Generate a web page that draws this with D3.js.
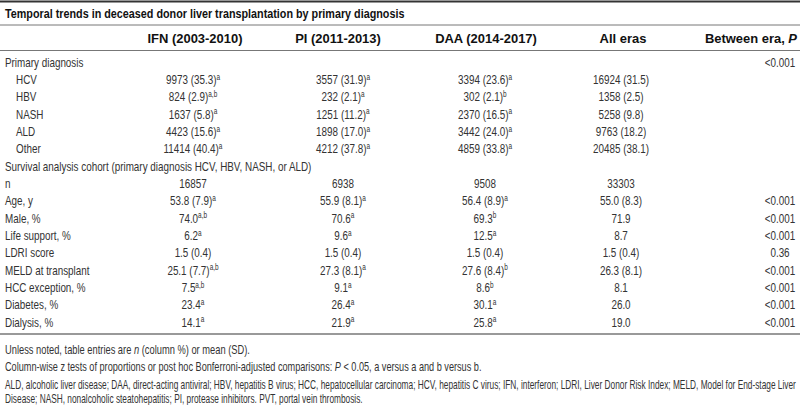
<!DOCTYPE html>
<html><head><meta charset="utf-8">
<script src="https://cdn.jsdelivr.net/npm/d3@7"></script>
<style>
html,body{margin:0;padding:0;background:#fff;}
svg{display:block;}
text{font-family:"Liberation Sans",Arial,sans-serif;}
</style></head>
<body>
<svg id="c" width="800" height="405"></svg>
<script>
const title = "Temporal trends in deceased donor liver transplantation by primary diagnosis";
const columns = ["IFN (2003-2010)", "PI (2011-2013)", "DAA (2014-2017)", "All eras", "Between era, "];
const rowLabels = ["Primary diagnosis","HCV","HBV","NASH","ALD","Other",
  "Survival analysis cohort (primary diagnosis HCV, HBV, NASH, or ALD)",
  "n","Age, y","Male, %","Life support, %","LDRI score","MELD at transplant","HCC exception, %","Diabetes, %","Dialysis, %"];
const rowIndent = [0,1,1,1,1,1,0,0,0,0,0,0,0,0,0,0];
const ifn  = ["","9973 (35.3)","824 (2.9)","1637 (5.8)","4423 (15.6)","11414 (40.4)","","16857","53.8 (7.9)","74.0","6.2","1.5 (0.4)","25.1 (7.7)","7.5","23.4","14.1"];
const ifnSup = ["","a","a,b","a","a","a","","","a","a,b","a","","a,b","a,b","a","a"];
const pi   = ["","3557 (31.9)","232 (2.1)","1251 (11.2)","1898 (17.0)","4212 (37.8)","","6938","55.9 (8.1)","70.6","9.6","1.5 (0.4)","27.3 (8.1)","9.1","26.4","21.9"];
const piSup = ["","a","a","a","a","a","","","a","a","a","","a","a","a","a"];
const daa  = ["","3394 (23.6)","302 (2.1)","2370 (16.5)","3442 (24.0)","4859 (33.8)","","9508","56.4 (8.9)","69.3","12.5","1.5 (0.4)","27.6 (8.4)","8.6","30.1","25.8"];
const daaSup = ["","a","b","a","a","a","","","a","b","a","","b","b","a","a"];
const allEras = ["","16924 (31.5)","1358 (2.5)","5258 (9.8)","9763 (18.2)","20485 (38.1)","","33303","55.0 (8.3)","71.9","8.7","1.5 (0.4)","26.3 (8.1)","8.1","26.0","19.0"];
const pValues = ["<0.001","","","","","","","","<0.001","<0.001","<0.001","0.36","<0.001","<0.001","<0.001","<0.001"];
const footnotes = [
  [{t:"Unless noted, table entries are "},{t:"n",i:true},{t:" (column %) or mean (SD)."}],
  [{t:"Column-wise z tests of proportions or post hoc Bonferroni-adjusted comparisons: "},{t:"P",i:true},{t:" < 0.05, a versus a and b versus b."}],
  [{t:"ALD, alcoholic liver disease; DAA, direct-acting antiviral; HBV, hepatitis B virus; HCC, hepatocellular carcinoma; HCV, hepatitis C virus; IFN, interferon; LDRI, Liver Donor Risk Index; MELD, Model for End-stage Liver"}],
  [{t:"Disease; NASH, nonalcoholic steatohepatitis; PI, protease inhibitors. PVT, portal vein thrombosis."}]
];

const svg = d3.select("#c");
const W = 800;
const fs = 13;
const sx = 0.76;   // condensed look
const pos = (px,py,s=sx)=>`translate(${px},${py}) scale(${s},1)`;

const colKeys = d3.range(columns.length);
const x = d3.scaleOrdinal().domain(colKeys).range([193, 343, 485, 621, 780]);
const hx = d3.scaleOrdinal().domain(colKeys).range([195, 338, 486, 623, 797]);
const y = d3.scalePoint().domain(d3.range(rowLabels.length)).range([62, 322]);
const footY = d3.scaleOrdinal().domain(d3.range(footnotes.length)).range([349.5, 367, 384.5, 398.5]);

// rules
const rules = [{y:1.5,w:2,c:"#333"},{y:25,w:1,c:"#777"},{y:50.5,w:1,c:"#777"},{y:334,w:1.5,c:"#777"}];
svg.selectAll("line.rule").data(rules).join("line").attr("class","rule")
  .attr("x1",0).attr("x2",W).attr("y1",d=>d.y).attr("y2",d=>d.y)
  .attr("stroke",d=>d.c).attr("stroke-width",d=>d.w);

svg.append("text").attr("transform",pos(5,13,0.83)).attr("dy","0.35em")
  .attr("font-size",fs).attr("font-weight","bold").attr("fill","#111").text(title);

// headers
const hdr = svg.selectAll("text.hdr").data(colKeys).join("text").attr("class","hdr")
  .attr("transform",d=>pos(hx(d),38,0.96)).attr("dy","0.35em")
  .attr("text-anchor",d=>d===4?"end":"middle")
  .attr("font-size",13.5).attr("font-weight","bold").attr("fill","#111");
hdr.append("tspan").text(d=>columns[d]);
hdr.filter(d=>d===4).append("tspan").attr("font-style","italic").text("P");

// row labels
svg.selectAll("text.lab").data(rowLabels).join("text").attr("class","lab")
  .attr("transform",(d,i)=>pos(rowIndent[i]?16:5,y(i))).attr("dy","0.35em")
  .attr("font-size",fs).attr("fill","#333").text(d=>d);

// cells
const series = [[ifn,ifnSup],[pi,piSup],[daa,daaSup],[allEras,null],[pValues,null]];
series.forEach(([vals,sups],ci)=>{
  const g = svg.append("g");
  const t = g.selectAll("text").data(vals.map((v,i)=>({v,i,s:sups?sups[i]:""})).filter(d=>d.v))
    .join("text").attr("transform",d=>pos(x(ci),y(d.i))).attr("dy","0.35em")
    .attr("text-anchor","middle").attr("font-size",fs).attr("fill","#333");
  t.append("tspan").text(d=>d.v);
  t.filter(d=>d.s).append("tspan").attr("font-size",8.5).attr("dy","-0.5em").text(d=>d.s);
});

// footnotes: the long line spans the full width; others are condensed a bit less
const fn = footnotes.map((parts,i)=>{
  const t = svg.append("text").attr("x",0).attr("y",0).attr("dy","0.35em")
    .attr("font-size",12).attr("fill","#333");
  parts.forEach(p=>{ const s=t.append("tspan").text(p.t); if(p.i) s.attr("font-style","italic"); });
  return t;
});
const natural = fn[2].node().getComputedTextLength();
const k = (W - 8) / natural;
const kf = [k*1.12, k*1.1, k, k];
fn.forEach((t,i)=>t.attr("transform",pos(5,footY(i),kf[i])));
</script>
</body></html>
